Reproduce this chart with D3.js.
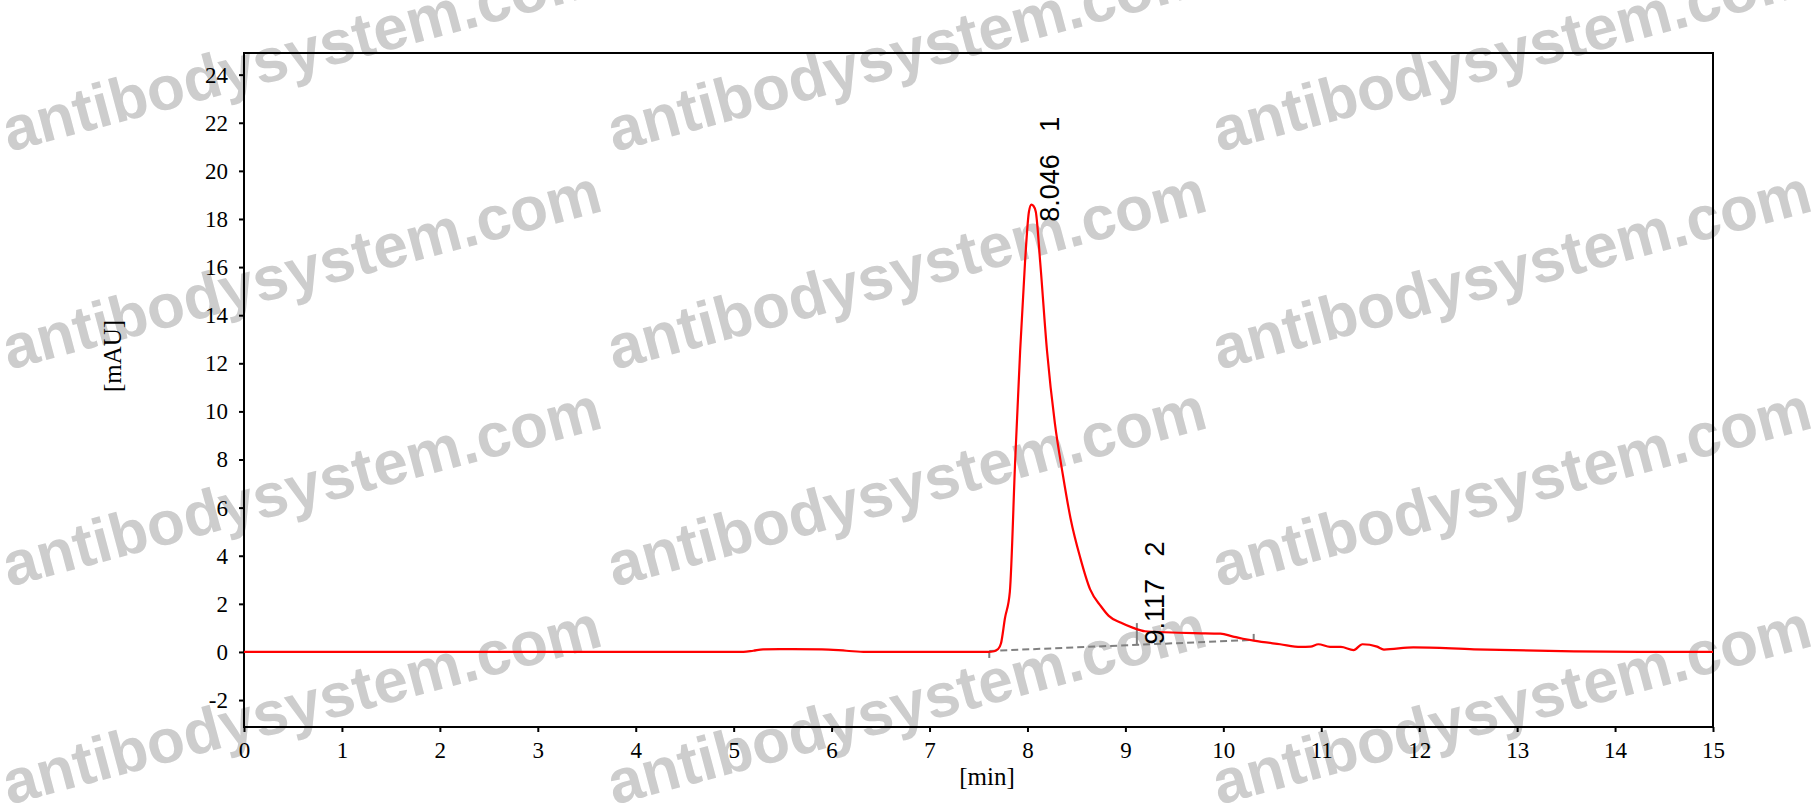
<!DOCTYPE html>
<html lang="en">
<head>
  <meta charset="utf-8">
  <script src="https://d3js.org/d3.v7.min.js"></script>
  <style>
    html, body { margin: 0; padding: 0; background: #ffffff; }
    svg { display: block; }
  </style>
</head>
<body>
<svg id="chart" width="1812" height="805"></svg>
<script type="text/javascript">
// chromatogram trace
var retentionTimes = [0.00, 5.10, 5.20, 5.30, 5.60, 5.90, 6.15, 6.35, 7.60, 7.66,
  7.70, 7.73, 7.77, 7.82, 7.875, 7.925, 7.975, 8.015, 8.04, 8.06,
  8.085, 8.13, 8.20, 8.28, 8.36, 8.44, 8.54, 8.64, 8.75, 8.83,
  8.95, 9.08, 9.20, 9.40, 9.70, 9.97, 10.10, 10.20, 10.31, 10.58,
  10.79, 10.89, 10.97, 11.09, 11.20, 11.33, 11.42, 11.57, 11.64, 11.94,
  12.56, 13.58, 14.26, 15.00];
var absorbance = [0, 0, 0.05, 0.11, 0.12, 0.11, 0.05, 0, 0, 0.03,
  0.12, 0.36, 1.4, 2.5, 8.0, 12.5, 16.2, 18.3, 18.6, 18.55,
  18.3, 16.2, 12.5, 9.5, 7.4, 5.55, 3.9, 2.6, 1.9, 1.5,
  1.22, 1.0, 0.86, 0.82, 0.78, 0.76, 0.64, 0.55, 0.47, 0.32,
  0.21, 0.22, 0.32, 0.21, 0.21, 0.08, 0.32, 0.22, 0.10, 0.19,
  0.11, 0.02, 0, 0];

// integrated peaks
var peakTimes = [8.046, 9.117];
var peakHeights = [18.55, 0.97];
var peakIds = [1, 2];

// integration baseline and its drop marks
var baseTimes = [7.61, 10.31];
var baseValues = [0.04, 0.50];
var dropTimes = [7.61, 9.117, 10.31];
var dropLow = [-0.25, 0.30, 0.47];
var dropHigh = [0.04, 1.20, 0.75];

var xTicks = [0, 1, 2, 3, 4, 5, 6, 7, 8, 9, 10, 11, 12, 13, 14, 15];
var yTicks = [-2, 0, 2, 4, 6, 8, 10, 12, 14, 16, 18, 20, 22, 24];

var watermark = "antibodysystem.com";

var W = 1812, H = 805;
var margin = {top: 53, right: 99, bottom: 78, left: 244};
var svg = d3.select("#chart");

// watermark grid behind the chart
var wmCols = [9, 614, 1219], wmRows = [152, 370, 587, 805];
wmRows.forEach(function (wy) {
  wmCols.forEach(function (wx) {
    svg.append("text")
      .attr("transform", "translate(" + wx + "," + wy + ") rotate(-15)")
      .attr("font-family", "Liberation Sans, Arial, sans-serif")
      .attr("font-weight", "bold")
      .attr("font-size", 62)
      .attr("fill", "#cdcdcd")
      .text(watermark);
  });
});

var x = d3.scaleLinear().domain([0, 15]).range([margin.left, W - margin.right]);
var y = d3.scaleLinear().domain([-3.12, 24.9]).range([H - margin.bottom, margin.top]);

// axes
var plain = function (d) { return String(d); };
var xAxis = svg.append("g")
  .attr("transform", "translate(0," + (H - margin.bottom) + ")")
  .call(d3.axisBottom(x).tickValues(xTicks).tickFormat(plain)
    .tickSize(5).tickSizeOuter(0).tickPadding(10));
var yAxis = svg.append("g")
  .attr("transform", "translate(" + margin.left + ",0)")
  .call(d3.axisLeft(y).tickValues(yTicks).tickFormat(plain)
    .tickSize(5).tickSizeOuter(0).tickPadding(11));

[xAxis, yAxis].forEach(function (g) {
  g.select(".domain").remove();
  g.selectAll(".tick line").attr("stroke", "#000").attr("stroke-width", 2);
  g.selectAll(".tick text")
    .attr("fill", "#000")
    .attr("font-family", "Liberation Serif, Times New Roman, serif")
    .attr("font-size", 23);
});

// frame
svg.append("rect")
  .attr("x", margin.left).attr("y", margin.top)
  .attr("width", W - margin.left - margin.right)
  .attr("height", H - margin.top - margin.bottom)
  .attr("fill", "none").attr("stroke", "#000").attr("stroke-width", 2);

// axis titles
svg.append("text")
  .attr("transform", "translate(121,356) rotate(-90)")
  .attr("text-anchor", "middle")
  .attr("font-family", "Liberation Serif, Times New Roman, serif")
  .attr("font-size", 25)
  .text("[mAU]");
svg.append("text")
  .attr("x", 987).attr("y", 785)
  .attr("text-anchor", "middle")
  .attr("font-family", "Liberation Serif, Times New Roman, serif")
  .attr("font-size", 25)
  .text("[min]");

// integration baseline (dashed) and drop marks
svg.append("line")
  .attr("x1", x(baseTimes[0])).attr("y1", y(baseValues[0]))
  .attr("x2", x(baseTimes[1])).attr("y2", y(baseValues[1]))
  .attr("stroke", "#808080").attr("stroke-width", 2)
  .attr("stroke-dasharray", "7,4");
svg.selectAll("line.drop")
  .data(dropTimes)
  .enter()
  .append("line")
  .attr("class", "drop")
  .attr("x1", function (d) { return x(d); })
  .attr("x2", function (d) { return x(d); })
  .attr("y1", function (d, i) { return y(dropLow[i]); })
  .attr("y2", function (d, i) { return y(dropHigh[i]); })
  .attr("stroke", "#808080").attr("stroke-width", 2);

// trace
var pts = retentionTimes.map(function (t, i) { return [t, absorbance[i]]; });
var line = d3.line()
  .x(function (d) { return x(d[0]); })
  .y(function (d) { return y(d[1]); })
  .curve(d3.curveMonotoneX);
svg.append("path")
  .datum(pts)
  .attr("d", line)
  .attr("fill", "none")
  .attr("stroke", "#ff0000")
  .attr("stroke-width", 2.2)
  .attr("stroke-linejoin", "round");

// peak labels
svg.selectAll("text.peak")
  .data(peakTimes)
  .enter()
  .append("text")
  .attr("class", "peak")
  .attr("transform", function (d, i) {
    return "translate(" + (x(d) + 27) + "," + (y(peakHeights[i]) + 16) + ") rotate(-90)";
  })
  .attr("font-family", "Liberation Sans, Arial, sans-serif")
  .attr("font-size", 27)
  .attr("fill", "#000")
  .style("white-space", "pre")
  .text(function (d, i) { return d3.format(".3f")(d) + "   " + peakIds[i]; });
</script>
</body>
</html>
